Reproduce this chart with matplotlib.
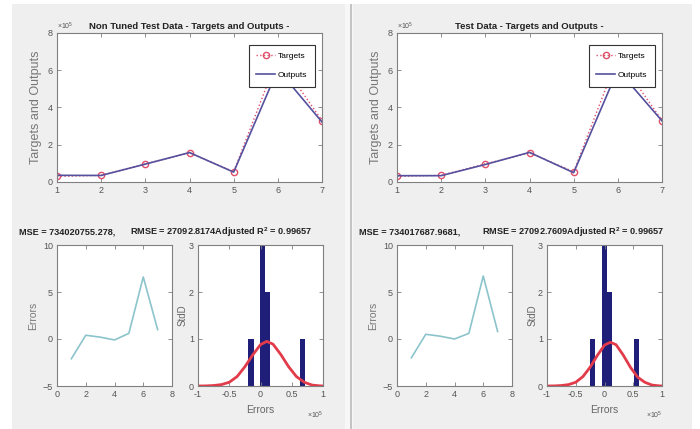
import matplotlib
matplotlib.use("Agg")
import matplotlib.pyplot as plt
from matplotlib.patches import Rectangle

plt.rcParams['font.family'] = ['Liberation Sans', 'DejaVu Sans']
plt.rcParams['mathtext.default'] = 'regular'

# data
samples = [1, 2, 3, 4, 5, 6, 7]
targets = [0.30, 0.36, 0.97, 1.57, 0.55, 6.70, 3.30]      # x10^5
outputs_nt = [0.36, 0.35, 0.96, 1.58, 0.53, 6.05, 3.22]
outputs_t = [0.34, 0.34, 0.94, 1.59, 0.50, 6.03, 3.28]

errors_nt = [-2.1, 0.4, 0.2, -0.1, 0.6, 6.6, 1.0]
errors_t = [-2.0, 0.5, 0.3, 0.0, 0.6, 6.7, 0.8]

hist_centers_nt = [-0.15, 0.03, 0.11, 0.67]
hist_centers_t = [-0.21, 0.0, 0.08, 0.56]
hist_counts = [1, 3, 2, 1]

fit_x = [-1.0, -0.875, -0.75, -0.625, -0.5, -0.375, -0.25, -0.125, 0.0, 0.1,
         0.2, 0.325, 0.45, 0.575, 0.7, 0.825, 0.95, 1.0]
fit_nt = [0.0, 0.002, 0.01, 0.03, 0.08, 0.2, 0.41, 0.66, 0.88, 0.95,
          0.89, 0.67, 0.41, 0.2, 0.08, 0.02, 0.003, 0.001]
fit_t = [0.0, 0.002, 0.01, 0.03, 0.08, 0.2, 0.40, 0.65, 0.87, 0.93,
         0.88, 0.66, 0.40, 0.19, 0.08, 0.02, 0.003, 0.001]

titles = ["Non Tuned Test Data - Targets and Outputs -", "Test Data - Targets and Outputs -"]
mse_txt = ["MSE = 734020755.278,", "MSE = 734017687.9681,"]
rmse_txt = ["RMSE = 27092.8174Adjusted R$^2$ = 0.99657", "RMSE = 27092.7609Adjusted R$^2$ = 0.99657"]

W, H = 700, 429
fig = plt.figure(figsize=(7, 4.29), dpi=100)
fig.patch.set_facecolor("white")

# gray figure backgrounds + divider
fig.patches.append(Rectangle((12 / W, 0), (692 - 12) / W, (H - 4) / H, transform=fig.transFigure,
                             facecolor="#efefef", edgecolor="none", zorder=-10))
fig.patches.append(Rectangle((345 / W, 0), 8 / W, (H - 4) / H, transform=fig.transFigure,
                             facecolor="#f7f7f7", edgecolor="none", zorder=-9))
fig.patches.append(Rectangle((350 / W, 0), 2 / W, (H - 4) / H, transform=fig.transFigure,
                             facecolor="#c4c4c4", edgecolor="none", zorder=-8))

tick_col = "#555555"
spine_col = "#808080"


def px_axes(l, r, t, b):
    ax = fig.add_axes([l / W, (H - b) / H, (r - l) / W, (b - t) / H])
    for s in ax.spines.values():
        s.set_color(spine_col)
        s.set_linewidth(0.8)
    ax.tick_params(direction="in", top=True, right=True, length=3, width=0.6,
                   labelsize=6.5, colors=spine_col, labelcolor=tick_col, pad=3)
    return ax


panels = [
    dict(off=0, outputs=outputs_nt, errors=errors_nt, centers=hist_centers_nt, fit=fit_nt,
         hist=(198, 323), rmse_x=130),
    dict(off=340, outputs=outputs_t, errors=errors_t, centers=hist_centers_t, fit=fit_t,
         hist=(547, 662), rmse_x=482),
]

for i, p in enumerate(panels):
    o = p["off"]
    # targets and outputs
    ax = px_axes(57 + o, 322 + o, 33, 182)
    ax.plot(samples, targets, ":", color="#e0506a", marker="o", markersize=4.5,
            markerfacecolor="none", lw=1, label="Targets")
    ax.plot(samples, p["outputs"], "-", color="#55519e", lw=1.2, label="Outputs")
    ax.set_xlim(1, 7)
    ax.set_ylim(0, 8)
    ax.set_xticks(samples)
    ax.set_yticks([0, 2, 4, 6, 8])
    ax.set_title(titles[i], fontsize=6.8, fontweight="bold", color="#222222", pad=3)
    ax.set_ylabel("Targets and Outputs", fontsize=9, color="#777777")
    ax.yaxis.set_label_coords(-15 / 265, 0.5)
    ax.text(0.0, 1.01, r"$\times10^5$", transform=ax.transAxes, fontsize=5, color=tick_col,
            ha="left", va="bottom")
    leg = ax.legend(loc="upper right", bbox_to_anchor=((315 - 57) / 265, 1 - 12 / 149),
                    borderaxespad=0, fontsize=6, frameon=True, fancybox=False, framealpha=1,
                    handlelength=2.2, borderpad=0.9, labelspacing=1.3, handletextpad=0.4)
    leg.get_frame().set_edgecolor("#333333")
    leg.get_frame().set_linewidth(0.8)

    # MSE text
    fig.text((19 + o) / W, (H - 232) / H, mse_txt[i], fontsize=6.6, fontweight="bold",
             color="#222222", va="center", ha="left")
    fig.text(p["rmse_x"] / W, (H - 232) / H, rmse_txt[i], fontsize=6.6,
             fontweight="bold", color="#222222", va="center", ha="left")

    # errors
    ax = px_axes(57 + o, 172 + o, 245, 386)
    ax.plot(samples, p["errors"], "-", color="#8cc4cc", lw=1.2)
    ax.set_xlim(0, 8)
    ax.set_ylim(-5, 10)
    ax.set_xticks([0, 2, 4, 6, 8])
    ax.set_yticks([-5, 0, 5, 10])
    ax.set_ylabel("Errors", fontsize=7.5, color="#777777")
    ax.yaxis.set_label_coords(-19 / 115, 0.5)

    # histogram
    hl, hr = p["hist"]
    ax = px_axes(hl, hr, 245, 386)
    ax.bar(p["centers"], hist_counts, width=0.09, color="#1f1f7a", edgecolor="none")
    ax.plot(fit_x, p["fit"], "-", color="#e23b4a", lw=2)
    ax.set_xlim(-1, 1)
    ax.set_ylim(0, 3)
    ax.set_xticks([-1, -0.5, 0, 0.5, 1])
    ax.set_xticklabels(["-1", "-0.5", "0", "0.5", "1"])
    ax.set_yticks([0, 1, 2, 3])
    ax.set_ylabel("StdD", fontsize=7, color="#666666")
    ax.yaxis.set_label_coords(-10 / 125, 0.5)
    ax.set_xlabel("Errors", fontsize=7.5, color="#666666", labelpad=4)
    ax.text(1.0, -0.17, r"$\times10^5$", transform=ax.transAxes, fontsize=5, color=tick_col,
            ha="right", va="top")

fig.savefig("out.png", dpi=100, facecolor=fig.get_facecolor())
